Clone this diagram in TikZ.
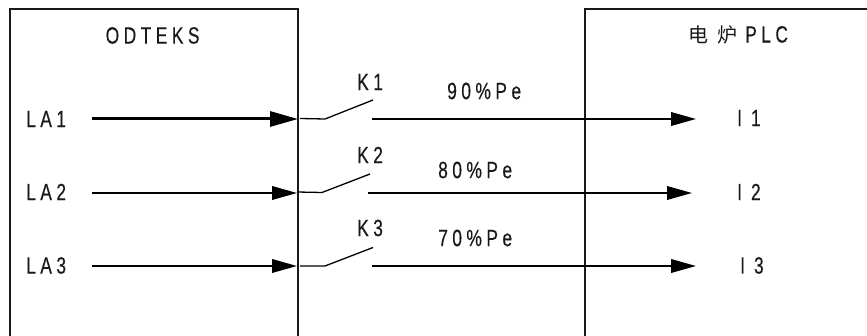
\documentclass[tikz,border=0pt]{standalone}
\usepackage{fontspec}
\usetikzlibrary{arrows.meta}
\setmainfont[FakeStretch=0.74,LetterSpace=19,FakeBold=0.35]{Liberation Sans}
\newfontfamily\cjkf{Noto Sans CJK SC}
\tikzset{
  lbl/.style={inner sep=0pt,anchor=west,font=\fontsize{23.5}{23.5}\selectfont,text=black!90},
  wire/.style={line width=2pt,black},
  box/.style={line width=2pt,black!90},
  arrowwire/.style={wire,-{Triangle[length=25pt,width=13.5pt]}},
  boldarrow/.style={line width=3pt,black,-{Triangle[length=28pt,width=15pt]}},
  blade/.style={line width=1.3pt,black}
}
\begin{document}
\begin{tikzpicture}[x=1pt,y=-1pt]
\useasboundingbox (0,0) rectangle (867,336);
% boxes
\draw[box] (10,340) -- (10,9) -- (298,9) -- (298,340);
\draw[box] (585,340) -- (585,9) -- (870,9);
% free connector ends
\coordinate (a1s) at (92,119);   \coordinate (a1e) at (298,119);
\coordinate (a2s) at (92,193);   \coordinate (a2e) at (297,193);
\coordinate (a3s) at (92,266);   \coordinate (a3e) at (297,266);
\coordinate (k1a) at (300,118.5); \coordinate (k1b) at (325,119); \coordinate (k1c) at (373,100);
\coordinate (k2a) at (297,192);   \coordinate (k2b) at (322,192.5); \coordinate (k2c) at (370,174);
\coordinate (k3a) at (300,266);   \coordinate (k3b) at (325,266); \coordinate (k3c) at (373,247.5);
\coordinate (o1s) at (372,119);   \coordinate (o1e) at (696,119);
\coordinate (o2s) at (368,193);   \coordinate (o2e) at (692,193);
\coordinate (o3s) at (372,266);   \coordinate (o3e) at (696,266);
% connectors
\draw[boldarrow] (a1s) -- (a1e);
\draw[arrowwire] (a2s) -- (a2e);
\draw[arrowwire] (a3s) -- (a3e);
\draw[blade] (k1a) -- (k1b) -- (k1c);
\draw[blade] (k2a) -- (k2b) -- (k2c);
\draw[blade] (k3a) -- (k3b) -- (k3c);
\draw[arrowwire] (o1s) -- (o1e);
\draw[arrowwire] (o2s) -- (o2e);
\draw[arrowwire] (o3s) -- (o3e);
% labels
\node[lbl] (odteks) at (105.5,35.5) {ODTEKS};
\node[lbl] (plc) at (688,35) {{\cjkf\fontsize{20}{20}\selectfont 电\hspace{9pt}炉}\hspace{8pt}PLC};
\node[lbl] (la1) at (26,119) {LA1};
\node[lbl] (la2) at (26,192) {LA2};
\node[lbl] (la3) at (26,265.5) {LA3};
\node[lbl] (k1) at (357,82) {K1};
\node[lbl] (k2) at (357,155) {K2};
\node[lbl] (k3) at (357,228) {K3};
\node[lbl] (p1) at (447,91) {90\%Pe};
\node[lbl] (p2) at (438,170) {80\%Pe};
\node[lbl] (p3) at (438,238) {70\%Pe};
\node[lbl] (i1) at (737,118) {I\hspace{9pt}1};
\node[lbl] (i2) at (737,192) {I\hspace{9pt}2};
\node[lbl] (i3) at (740,265.5) {I\hspace{9pt}3};
\end{tikzpicture}
\end{document}
